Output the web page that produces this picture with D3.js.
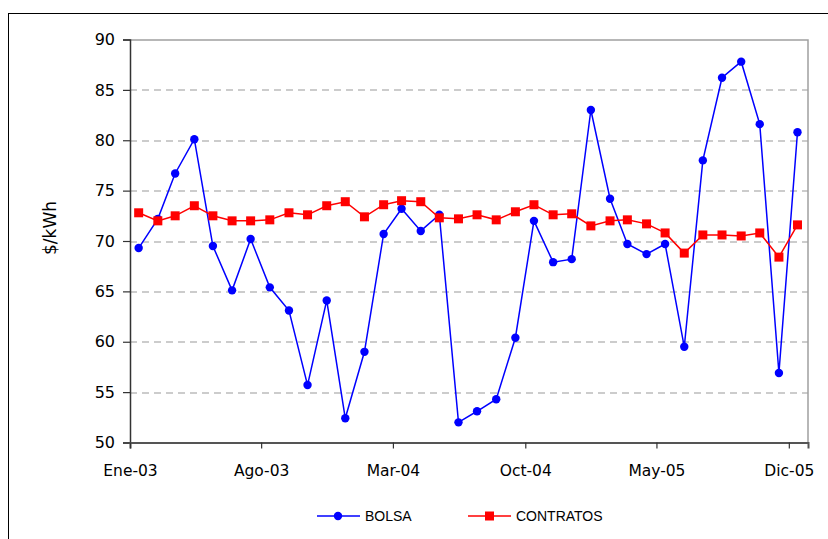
<!DOCTYPE html>
<html>
<head>
<meta charset="utf-8">
<script src="https://cdn.jsdelivr.net/npm/d3@7"></script>
<style>
  body { margin: 0; background: #fff; }
  svg { display: block; }
</style>
</head>
<body>
<div id="chart"></div>
<script>
// monthly data, Ene-03 .. Dic-05
var bolsa = [69.3, 72.2, 76.7, 80.1, 69.5, 65.1, 70.2, 65.4, 63.1, 55.7, 64.1, 52.4,
             59.0, 70.7, 73.2, 71.0, 72.6, 52.0, 53.1, 54.3, 60.4, 72.0, 67.9, 68.2,
             83.0, 74.2, 69.7, 68.7, 69.7, 59.5, 78.0, 86.2, 87.8, 81.6, 56.9, 80.8];
var contratos = [72.8, 72.0, 72.5, 73.5, 72.5, 72.0, 72.0, 72.1, 72.8, 72.6, 73.5, 73.9,
                 72.4, 73.6, 74.0, 73.9, 72.3, 72.2, 72.6, 72.1, 72.9, 73.6, 72.6, 72.7,
                 71.5, 72.0, 72.1, 71.7, 70.8, 68.8, 70.6, 70.6, 70.5, 70.8, 68.4, 71.6];
var tickLabels = ["Ene-03", "Ago-03", "Mar-04", "Oct-04", "May-05", "Dic-05"];
var tickMonths = [0, 7, 14, 21, 28, 35];
var yTicks = [50, 55, 60, 65, 70, 75, 80, 85, 90];

var svgWidth = 828, svgHeight = 539;
var margin = { top: 39.5, right: 20, bottom: 96.5, left: 130 };
var width = svgWidth - margin.left - margin.right;
var height = svgHeight - margin.top - margin.bottom;

var svg = d3.select("#chart").append("svg")
  .attr("width", svgWidth)
  .attr("height", svgHeight);

// outer frame
svg.append("rect")
  .attr("x", 8.5).attr("y", 13.5)
  .attr("width", 840).attr("height", 560)
  .attr("fill", "none").attr("stroke", "#000").attr("stroke-width", 1);

var g = svg.append("g")
  .attr("transform", `translate(${margin.left}, ${margin.top})`);

// dates: points sit mid-month, ticks at month start
var dates = bolsa.map((d, i) => new Date(2003, i, 15));
var x = d3.scaleTime()
  .domain([new Date(2003, 0, 1), new Date(2006, 0, 1)])
  .range([0, width]);
var y = d3.scaleLinear().domain([50, 90]).range([height, 0]);

// gridlines
g.selectAll(".grid")
  .data(yTicks.filter(v => v > 50 && v < 90))
  .enter().append("line")
  .attr("x1", 0).attr("x2", width)
  .attr("y1", d => Math.round(y(d)) + 0.5).attr("y2", d => Math.round(y(d)) + 0.5)
  .attr("stroke", "#999").attr("stroke-dasharray", "7,5");

// top and right border
g.append("path")
  .attr("d", `M0,0.5H${width}V${height}`)
  .attr("fill", "none").attr("stroke", "#a0a0a0").attr("stroke-width", 1.5);

// y axis
var leftAxis = d3.axisLeft(y).tickValues(yTicks).tickSize(7).tickPadding(8);
var yAxis = g.append("g").call(leftAxis);
yAxis.select(".domain").attr("stroke", "#333").attr("stroke-width", 1.5);
yAxis.selectAll(".tick line").attr("stroke", "#333").attr("stroke-width", 1.2);
yAxis.selectAll("text")
  .attr("font-family", "DejaVu Sans, Verdana, sans-serif")
  .attr("font-size", 16).attr("fill", "#000");

// x axis
var tickDates = tickMonths.map(m => new Date(2003, m, 1));
var bottomAxis = d3.axisBottom(x)
  .tickValues(tickDates)
  .tickSize(6).tickPadding(16)
  .tickFormat((d, i) => tickLabels[i]);
var xAxis = g.append("g")
  .attr("transform", `translate(0, ${height})`)
  .call(bottomAxis);
xAxis.select(".domain").attr("stroke", "#555").attr("stroke-width", 2);
xAxis.selectAll(".tick line").attr("stroke", "#333").attr("stroke-width", 1.2);
xAxis.selectAll("text")
  .attr("font-family", "DejaVu Sans, Verdana, sans-serif")
  .attr("font-size", 15.5).attr("fill", "#000");

// y axis label
svg.append("text")
  .attr("transform", "translate(56, 228) rotate(-90)")
  .attr("text-anchor", "middle")
  .attr("font-family", "DejaVu Sans, Verdana, sans-serif")
  .attr("font-size", 17)
  .text("$/kWh");

var line = d3.line()
  .x((d, i) => x(dates[i]))
  .y(d => y(d));

// BOLSA
g.append("path").datum(bolsa)
  .attr("d", line).attr("fill", "none")
  .attr("stroke", "#0000ff").attr("stroke-width", 1.5);
g.selectAll(".bolsa").data(bolsa).enter().append("circle")
  .attr("cx", (d, i) => x(dates[i])).attr("cy", d => y(d))
  .attr("r", 4.2).attr("fill", "#0000ff");

// CONTRATOS
g.append("path").datum(contratos)
  .attr("d", line).attr("fill", "none")
  .attr("stroke", "#ff0000").attr("stroke-width", 1.5);
g.selectAll(".contratos").data(contratos).enter().append("rect")
  .attr("x", (d, i) => x(dates[i]) - 4.5).attr("y", d => y(d) - 4.5)
  .attr("width", 9).attr("height", 9).attr("fill", "#ff0000");

// legend
var legend = svg.append("g").attr("transform", "translate(0, 516)");
var items = [
  { name: "BOLSA", color: "#0000ff", x: 317, shape: "circle" },
  { name: "CONTRATOS", color: "#ff0000", x: 468, shape: "rect" }
];
items.forEach(function (it) {
  legend.append("line")
    .attr("x1", it.x).attr("x2", it.x + 43).attr("y1", 0).attr("y2", 0)
    .attr("stroke", it.color).attr("stroke-width", 1.5);
  if (it.shape === "circle") {
    legend.append("circle").attr("cx", it.x + 21).attr("cy", 0).attr("r", 4.2).attr("fill", it.color);
  } else {
    legend.append("rect").attr("x", it.x + 17).attr("y", -4.5).attr("width", 9).attr("height", 9).attr("fill", it.color);
  }
  legend.append("text")
    .attr("x", it.x + 48).attr("y", 5)
    .attr("font-family", "Liberation Sans, Arial, sans-serif")
    .attr("font-size", 14)
    .text(it.name);
});
</script>
</body>
</html>
